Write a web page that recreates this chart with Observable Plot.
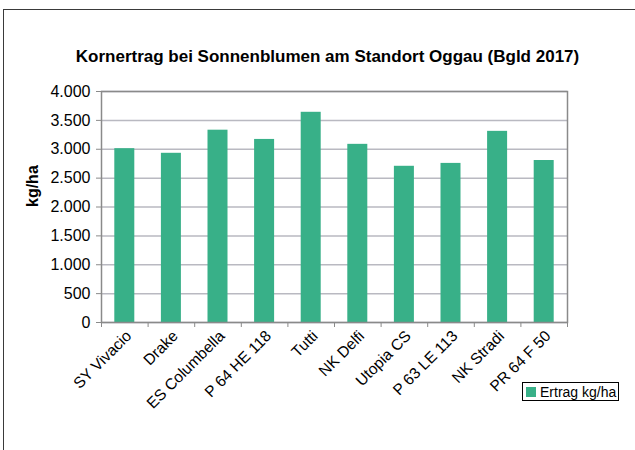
<!DOCTYPE html>
<html>
<head>
<meta charset="utf-8">
<script src="https://cdn.jsdelivr.net/npm/d3@7"></script>
<script src="https://cdn.jsdelivr.net/npm/@observablehq/plot@0.6"></script>
<style>
  html, body { margin: 0; padding: 0; background: #fff; }
  #wrap { position: relative; width: 635px; height: 450px; overflow: hidden; font-family: "Liberation Sans", Arial, sans-serif; }
  #border { position: absolute; left: 3px; top: 9px; width: 700px; height: 500px; border: 1.5px solid #3a3a3a; box-sizing: border-box; }
  #title { position: absolute; left: 0; width: 655px; top: 47px; line-height: 20px; text-align: center; font-weight: bold; font-size: 17px; color: #000; }
  #legend { position: absolute; left: 522px; top: 382px; width: 97px; height: 19px; border: 1px solid #000; box-sizing: border-box; background: #fff; font-size: 14px; display: flex; align-items: center; }
  #legend .sw { width: 10px; height: 10px; margin: 0 4px 0 3px; }
  #chart { position: absolute; left: 0; top: 0; }
</style>
</head>
<body>
<div id="wrap">
  <div id="border"></div>
  <div id="chart"></div>
  <div id="title"></div>
  <div id="legend"><span class="sw"></span><span class="lt"></span></div>
</div>
<script>
const titleText = "Kornertrag bei Sonnenblumen am Standort Oggau (Bgld 2017)";
const yLabel = "kg/ha";
const seriesName = "Ertrag kg/ha";
const categories = ["SY Vivacio", "Drake", "ES Columbella", "P 64 HE 118", "Tutti", "NK Delfi", "Utopia CS", "P 63 LE 113", "NK Stradi", "PR 64 F 50"];
const ertrag = [3010, 2930, 3330, 3170, 3640, 3085, 2705, 2755, 3310, 2805];
const yTicks = [0, 500, 1000, 1500, 2000, 2500, 3000, 3500, 4000];
const barColor = "#38b088";

const deLocale = d3.formatLocale({decimal: ",", thousands: ".", grouping: [3], currency: ["", " €"]});
const fmt = deLocale.format(",");

const data = categories.map((c, i) => ({name: c, idx: i, value: ertrag[i]}));

document.getElementById("title").textContent = titleText;
document.querySelector("#legend .sw").style.background = barColor;
document.querySelector("#legend .lt").textContent = seriesName;

const chart = Plot.plot({
  width: 635,
  height: 450,
  marginLeft: 101,
  marginRight: 68,
  marginTop: 91,
  marginBottom: 128,
  style: {fontFamily: "Liberation Sans, Arial, sans-serif", fontSize: "16px", color: "#000", background: "transparent", overflow: "visible"},
  x: {domain: [0, categories.length], axis: null},
  y: {domain: [0, 4000], axis: null},
  marks: [
    Plot.gridY(yTicks, {stroke: "#b9b9c1", strokeOpacity: 1, strokeWidth: 1.5}),
    Plot.rectY(data, {x1: d => d.idx, x2: d => d.idx + 1, y: "value", fill: barColor, insetLeft: 13.3, insetRight: 13.3}),
    Plot.frame({stroke: "#8a8a8a", strokeWidth: 1.5}),
    Plot.axisY({ticks: yTicks, tickFormat: fmt, tickSize: 5, tickPadding: 6, stroke: "#8a8a8a", fill: "#000", fontSize: 16, label: null}),
    Plot.axisX({ticks: d3.range(categories.length + 1), tickFormat: () => "", tickSize: 5, stroke: "#8a8a8a", label: null}),
    Plot.text(data, {x: d => d.idx + 0.5, y: () => 0, text: "name", rotate: -45, textAnchor: "end", dx: 4, dy: 11, fontSize: 15.5, fill: "#000"}),
    Plot.text([yLabel], {text: d => d, frameAnchor: "left", dx: -69, rotate: -90, fontWeight: "bold", fontSize: 16, fill: "#000"})
  ]
});
document.getElementById("chart").appendChild(chart);
</script>
</body>
</html>
